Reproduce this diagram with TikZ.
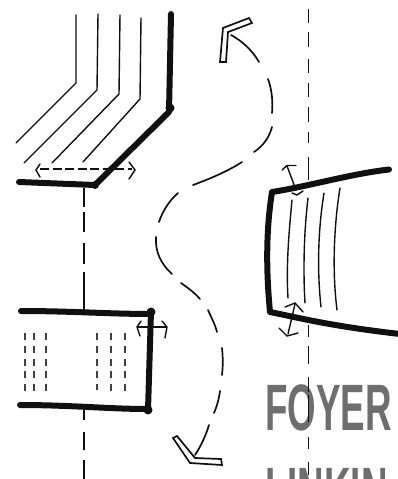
\documentclass[tikz,border=0pt]{standalone}
\usepackage{fontspec}
\setmainfont{Liberation Sans}
\usepackage{graphicx}
\definecolor{titlegray}{HTML}{6E6E6E}
\definecolor{ink}{HTML}{101010}
\tikzset{
  wall/.style={draw=ink,line width=6pt,line cap=round,line join=round},
  hatch/.style={draw=ink,line width=1.4pt,line cap=round,line join=round},
  axis/.style={draw=ink,line width=1.5pt},
  route/.style={draw=ink,line width=1.7pt,line cap=round},
  tick/.style={draw=ink,line width=1.4pt,line cap=round,line join=miter},
  cols/.style={draw=ink!80,line width=1.9pt,dash pattern=on 7pt off 5.8pt},
  chevron/.style={draw=ink,line width=1.7pt,fill=white,line join=miter},
  title/.style={anchor=base west,inner sep=0pt,text=titlegray,font=\bfseries\fontsize{65.6pt}{66pt}\selectfont}
}
\begin{document}
\begin{tikzpicture}[x=1pt,y=-1pt]
\useasboundingbox (0,0) rectangle (398,479);
\clip (0,0) rectangle (398,479);
% titles
\node[title] (foyer) at (265,430) {\scalebox{0.56}[1]{FOYER}};
\node[title] (linkin) at (265,513) {\scalebox{0.56}[1]{LINKIN}};
% axes
\foreach \a/\b in {188/207,212/232,243/264,272/300,300/312,410/420,432/450,460/479}
  \draw[axis] (84,\a) -- (84,\b);
\foreach \a/\b in {9/23,32/47,59/73,83/97,107/122,132/143,157/180,325/337,346/364,377/392,395/422,437/449,462/475}
  \draw[axis] (308.5,\a) -- (308.5,\b);
% upper left bay
\draw[hatch] (76,15) -- (76,83) -- (16,143);
\draw[hatch] (98,14) -- (97,90) -- (24,163);
\draw[hatch] (120,15) -- (119,94) -- (52,163);
\draw[hatch] (141,18) -- (140,99) -- (83,162);
\draw[wall] (171,14) -- (169,112) -- (95,185) -- (19,182);
\fill[ink] (170,108) circle (4.5pt) (95,185) circle (4pt);
\draw[axis,dash pattern=on 9pt off 3.5pt] (40,169) -- (132,169);
\draw[tick] (40,164) -- (36,170) -- (40,177);
\draw[tick] (129,162) -- (135,170) -- (129,179);
% lower left bay
\foreach \x/\b in {25/393,34/393,46/393,97/390,111/391,125/393}
  \draw[cols] (\x,333) -- (\x,\b);
\draw[wall] (21,311) .. controls (70,311) and (110,314) .. (151,314);
\draw[wall] (20,405) .. controls (70,405) and (110,409) .. (147,409);
\draw[wall] (151,311) -- (148,410);
\fill[ink] (151,312) circle (4.5pt) (148,410) circle (4.5pt);
\draw[tick] (138,327) -- (166,327);
\draw[tick] (141,321) -- (137,327) -- (140,336);
\draw[tick] (162,321) -- (167,327) -- (165,338);
% right bay
\draw[hatch] (292,200) .. controls (289,232) and (286,265) .. (288,298);
\draw[hatch] (308,198) .. controls (304,232) and (303,270) .. (305,303);
\draw[hatch] (324,193) .. controls (318,230) and (317,270) .. (321,307);
\draw[hatch] (340,188) .. controls (334,225) and (332,270) .. (337,310);
\draw[wall] (389,169.5) .. controls (350,174) and (310,186) .. (272,192)
  .. controls (266,230) and (266,270) .. (270,312)
  .. controls (300,318) and (330,326) .. (400,334);
\draw[tick] (296,190) -- (287,166);
\draw[tick] (282,170) -- (287,165.5) -- (296,165.5);
\draw[tick] (292,193) -- (297,195) -- (303,191);
\draw[tick] (295,304) -- (288,334);
\draw[tick] (285,307) -- (295,303) -- (303,312);
\draw[tick] (279,328) -- (287,336) -- (298,333);
% route
\draw[route] (231,35) .. controls (242,41) and (252,50) .. (259,62);
\draw[route] (268,79) .. controls (272,90) and (273,102) .. (272,113);
\draw[route] (272,127) .. controls (269,138) and (263,146) .. (254,152);
\draw[route] (242,162) .. controls (228,171) and (212,178) .. (193,185);
\draw[route] (178,193) .. controls (170,200) and (163,210) .. (159,222);
\draw[route] (156,237) .. controls (155,252) and (161,264) .. (172,274);
\draw[route] (181,283) .. controls (188,288) and (195,293) .. (200,299);
\draw[route] (208,310) .. controls (211,317) and (215,324) .. (217,332);
\draw[route] (222,348) .. controls (223,358) and (223,366) .. (222,375);
\draw[route] (220,391) .. controls (219,399) and (217,406) .. (214,413);
\draw[route] (209,425) .. controls (206,435) and (201,446) .. (195,455);
% chevrons
\draw[chevron] (220,62) -- (223,28) -- (249,18) -- (252,23) -- (228,32) -- (226,62) -- cycle;
\draw[chevron] (173,438) -- (177,436) -- (195,458) -- (221,459) -- (222,465) -- (190,463) -- cycle;
\end{tikzpicture}
\end{document}
